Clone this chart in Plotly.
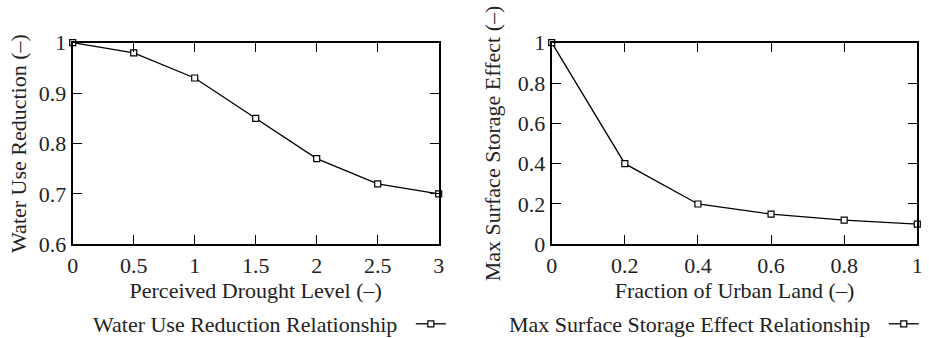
import plotly.graph_objects as go

# Data
drought_level = [0, 0.5, 1, 1.5, 2, 2.5, 3]
water_use_reduction = [1.0, 0.98, 0.93, 0.85, 0.77, 0.72, 0.70]

urban_fraction = [0, 0.2, 0.4, 0.6, 0.8, 1.0]
storage_effect = [1.0, 0.40, 0.20, 0.15, 0.12, 0.10]

left_x_ticks = [0, 0.5, 1, 1.5, 2, 2.5, 3]
left_y_ticks = [0.6, 0.7, 0.8, 0.9, 1]
right_x_ticks = [0, 0.2, 0.4, 0.6, 0.8, 1]
right_y_ticks = [0, 0.2, 0.4, 0.6, 0.8, 1]

FONT = "Liberation Serif"
FS = 22
W, H = 929, 338
NB = "\u00a0"

def px_x(p):
    return p / W

def px_y(p):
    return 1 - p / H

fig = go.Figure()

marker = dict(symbol="square", size=6, color="white", line=dict(color="black", width=1.2))

fig.add_trace(go.Scatter(
    x=drought_level, y=water_use_reduction, mode="lines+markers",
    line=dict(color="black", width=1.3), marker=marker,
    name=" ", xaxis="x", yaxis="y", legend="legend", cliponaxis=False, showlegend=True,
))
fig.add_trace(go.Scatter(
    x=urban_fraction, y=storage_effect, mode="lines+markers",
    line=dict(color="black", width=1.3), marker=marker,
    name=" ", xaxis="x2", yaxis="y2", legend="legend2", cliponaxis=False, showlegend=True,
))

axis_common = dict(
    showline=True, linecolor="black", linewidth=2, mirror="ticks",
    ticks="inside", ticklen=9, tickwidth=1.2, tickcolor="black",
    showgrid=False, zeroline=False, automargin=False,
    tickfont=dict(family=FONT, size=FS, color="#222"),
    title_font=dict(family=FONT, size=FS, color="#222"),
)

ydom = [px_y(244.3), px_y(42.7)]

legend_common = dict(
    orientation="h", yanchor="middle", y=px_y(324),
    font=dict(family=FONT, size=FS), bgcolor="rgba(0,0,0,0)",
    itemwidth=30, tracegroupgap=0,
)

fig.update_layout(
    width=W, height=H,
    margin=dict(l=0, r=0, t=0, b=0, autoexpand=False),
    paper_bgcolor="white", plot_bgcolor="white",
    showlegend=True,
    font=dict(family=FONT, size=FS, color="#222"),
    xaxis=dict(domain=[px_x(72.7), px_x(438.7)], range=[0, 3], tickvals=left_x_ticks,
               ticktext=[f"{v:g}" for v in left_x_ticks], anchor="y",
               title=dict(text="Perceived Drought Level (–)", standoff=6), **axis_common),
    yaxis=dict(domain=ydom, range=[0.6, 1], tickvals=left_y_ticks,
               ticktext=[f"{v:g}" for v in left_y_ticks], anchor="x",
               title=dict(text="Water Use Reduction (–)", standoff=6), **axis_common),
    xaxis2=dict(domain=[px_x(551.7), px_x(917.3)], range=[0, 1], tickvals=right_x_ticks,
                ticktext=[f"{v:g}" for v in right_x_ticks], anchor="y2",
                title=dict(text="Fraction of Urban Land (–)", standoff=6), **axis_common),
    yaxis2=dict(domain=ydom, range=[0, 1], tickvals=right_y_ticks,
                ticktext=[f"{v:g}" for v in right_y_ticks], anchor="x2",
                title=dict(text="Max Surface Storage Effect (–)", standoff=11), **axis_common),
    legend=dict(
        x=px_x(462), xanchor="right",
        title=dict(text="Water Use Reduction Relationship" + NB, side="left",
                   font=dict(family=FONT, size=FS, color="#222")),
        **legend_common,
    ),
    legend2=dict(
        x=px_x(935), xanchor="right",
        title=dict(text="Max Surface Storage Effect Relationship" + NB, side="left",
                   font=dict(family=FONT, size=FS, color="#222")),
        **legend_common,
    ),
)

fig.write_html("out.html")
